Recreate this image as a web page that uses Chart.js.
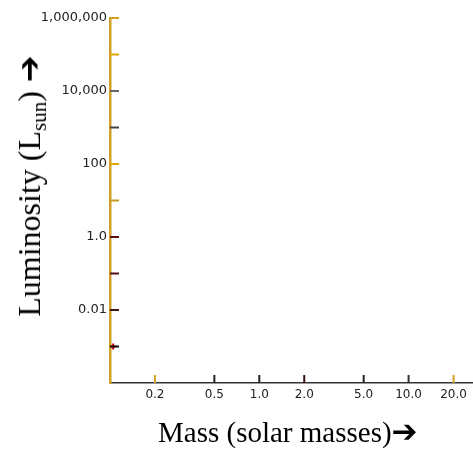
<!DOCTYPE html>
<html>
<head>
<meta charset="utf-8">
<script src="https://cdn.jsdelivr.net/npm/chart.js@4/dist/chart.umd.min.js"></script>
<style>
  body { margin: 0; background: #fff; }
  #wrap { position: relative; width: 473px; height: 450px; overflow: hidden; }
  .title { position: absolute; white-space: nowrap; font-family: "Liberation Serif", serif; font-size: 29px; color: #000; }
  .arrow { font-family: "DejaVu Sans", sans-serif; font-weight: bold; font-size: 31px; }
  #ytitle { left: 31px; top: 186px; font-size: 32px; transform: translate(-50%, -50%) rotate(-90deg); }
  #ytitle .arrow { margin-left: 9px; font-size: 32px; }
  #xtitle { left: 158px; top: 413px; }
  sub { font-size: 21px; vertical-align: -6px; }
</style>
</head>
<body>
<div id="wrap">
  <canvas id="hr" width="473" height="450"></canvas>
  <div class="title" id="ytitle">Luminosity (L<sub>sun</sub>)<span class="arrow">➔</span></div>
  <div class="title" id="xtitle">Mass (solar masses)<span class="arrow">➔</span></div>
</div>
<script>
// star data (mass in solar masses, luminosity in L_sun)
const starMass = [0.105];
const starLum = [0.001];

// axis ticks
const massTicks = [0.2, 0.5, 1, 2, 5, 10, 20];
const massLabels = ['0.2', '0.5', '1.0', '2.0', '5.0', '10.0', '20.0'];
const massTickColors = ['#d4a017', '#222', '#222', '#3a1010', '#222', '#333', '#d4a017'];

const lumTicks = [1e6, 1e5, 1e4, 1e3, 100, 10, 1, 0.1, 0.01, 0.001];
const lumLabels = ['1,000,000', '', '10,000', '', '100', '', '1.0', '', '0.01', ''];
const lumTickColors = ['#d4a017', '#e0a800', '#666', '#444', '#e0a800', '#c89a20', '#5a1010', '#5a1010', '#3a1a10', '#111'];

// inward tick marks, drawn from the scales
const innerTicks = {
    id: 'innerTicks',
    afterDraw(chart) {
        const ctx = chart.ctx;
        const xs = chart.scales.x;
        const ys = chart.scales.y;
        ctx.save();
        ctx.lineWidth = 2;
        ys.ticks.forEach((t, i) => {
            const y = ys.getPixelForValue(t.value);
            ctx.strokeStyle = lumTickColors[i];
            ctx.beginPath();
            ctx.moveTo(xs.left, y);
            ctx.lineTo(xs.left + 9, y);
            ctx.stroke();
        });
        xs.ticks.forEach((t, i) => {
            const x = xs.getPixelForValue(t.value);
            ctx.strokeStyle = massTickColors[i];
            ctx.beginPath();
            ctx.moveTo(x, ys.bottom);
            ctx.lineTo(x, ys.bottom - 8);
            ctx.stroke();
        });
        ctx.restore();
    }
};

const ctx = document.getElementById('hr').getContext('2d');
new Chart(ctx, {
    type: 'scatter',
    data: {
        datasets: [{
            data: starMass.map((m, i) => ({ x: m, y: starLum[i] })),
            pointStyle: 'cross',
            radius: 3,
            borderColor: '#cc0000',
            borderWidth: 2,
            backgroundColor: '#cc0000'
        }]
    },
    options: {
        responsive: false,
        animation: false,
        layout: { autoPadding: false, padding: { top: 18, right: 0, left: 0, bottom: 0 } },
        plugins: { legend: { display: false }, tooltip: { enabled: false } },
        scales: {
            x: {
                type: 'logarithmic',
                min: 0.1,
                max: 27,
                afterBuildTicks: (axis) => { axis.ticks = massTicks.map(v => ({ value: v })); },
                afterFit: (axis) => { axis.height = 67; },
                grid: { display: false, drawTicks: false },
                border: { display: true, color: '#333', width: 1.5 },
                ticks: {
                    autoSkip: false,
                    maxRotation: 0,
                    padding: 5,
                    color: '#222',
                    font: { family: 'DejaVu Sans', size: 12 },
                    callback: (v, i) => massLabels[i]
                }
            },
            y: {
                type: 'logarithmic',
                min: 0.0001,
                max: 1000000,
                afterBuildTicks: (axis) => { axis.ticks = lumTicks.map(v => ({ value: v })); },
                afterFit: (axis) => { axis.width = 110; },
                grid: { display: false, drawTicks: false },
                border: { display: true, color: '#d0a02a', width: 2.5 },
                ticks: {
                    autoSkip: false,
                    padding: 3,
                    color: '#222',
                    font: { family: 'DejaVu Sans', size: 13 },
                    callback: (v, i) => lumLabels[i]
                }
            }
        }
    },
    plugins: [innerTicks]
});
</script>
</body>
</html>
